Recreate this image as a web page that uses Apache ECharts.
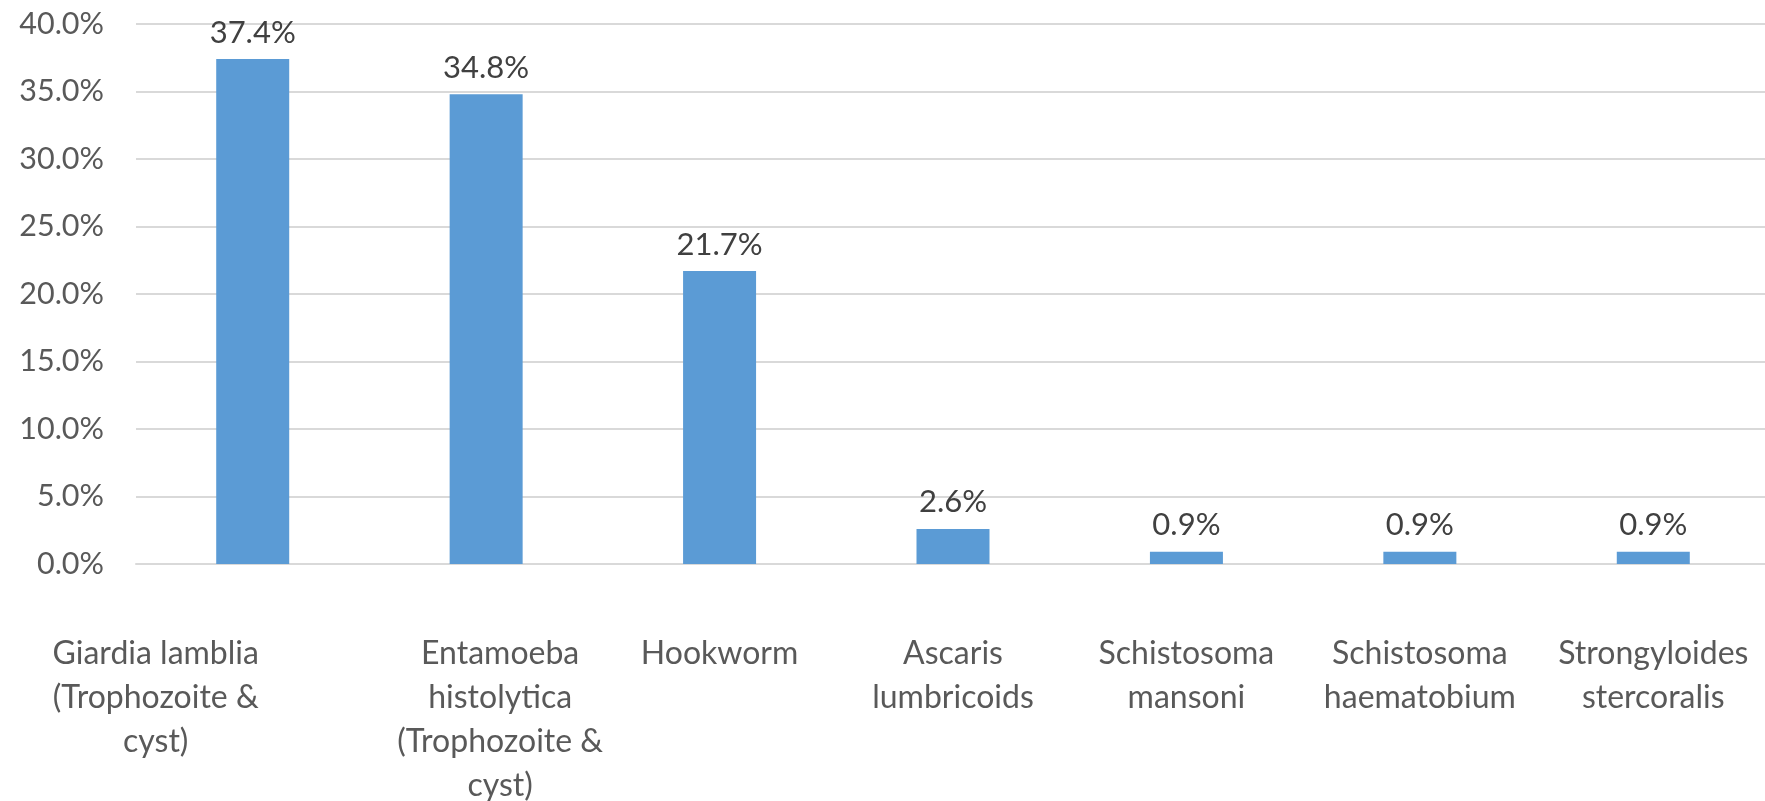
<!DOCTYPE html>
<html>
<head>
<meta charset="utf-8">
<script src="https://cdn.jsdelivr.net/npm/echarts@6/dist/echarts.min.js"></script>
<style>html,body{margin:0;padding:0;background:#fff;}#c{width:1765px;height:801px;}</style>
</head>
<body>
<div id="c"></div>
<script>
const categories = [
  "Giardia lamblia\n(Trophozoite &\ncyst)",
  "Entamoeba\nhistolytica\n(Trophozoite &\ncyst)",
  "Hookworm",
  "Ascaris\nlumbricoids",
  "Schistosoma\nmansoni",
  "Schistosoma\nhaematobium",
  "Strongyloides\nstercoralis"
];
const values = [37.4, 34.8, 21.7, 2.6, 0.9, 0.9, 0.9];
const yTicks = [0, 5, 10, 15, 20, 25, 30, 35, 40];
// per-label horizontal shift (Excel wrapped-label placement)
const labelShift = [-97, 14, 0, 0, 0, 0, 0];

const chart = echarts.init(document.getElementById('c'));
const rich = {};
labelShift.forEach((s, i) => {
  rich['l' + i] = {
    fontFamily: 'Lato', fontSize: 32, color: '#595959', lineHeight: 44,
    padding: s < 0 ? [0, -2 * s, 0, 0] : [0, 0, 0, 2 * s]
  };
});
chart.setOption({
  animation: false,
  grid: { left: 136, top: 24, width: 1634, height: 540, containLabel: false, outerBoundsMode: 'none' },
  xAxis: {
    type: 'category',
    data: categories,
    axisLine: { show: true, lineStyle: { color: '#d9d9d9', width: 2 } },
    axisTick: { show: false },
    axisLabel: {
      interval: 0,
      margin: 68,
      fontFamily: 'Lato', fontSize: 32, color: '#595959', lineHeight: 44,
      formatter: function (v, i) {
        return v.split('\n').map(l => '{l' + i + '|' + l + '}').join('\n');
      },
      rich: rich
    }
  },
  yAxis: {
    type: 'value',
    min: yTicks[0],
    max: yTicks[yTicks.length - 1],
    interval: 5,
    axisLine: { show: false },
    axisTick: { show: false },
    splitLine: { lineStyle: { color: '#d9d9d9', width: 2 } },
    axisLabel: {
      margin: 32,
      fontFamily: 'Lato', fontSize: 30.5, color: '#595959',
      formatter: v => v.toFixed(1) + '%'
    }
  },
  series: [{
    type: 'bar',
    data: values,
    barWidth: 73,
    itemStyle: { color: '#5b9bd5' },
    label: {
      show: true,
      position: 'top',
      distance: 11,
      fontFamily: 'Lato', fontSize: 31, color: '#404040',
      formatter: p => p.value.toFixed(1) + '%'
    }
  }]
});
</script>
</body>
</html>
